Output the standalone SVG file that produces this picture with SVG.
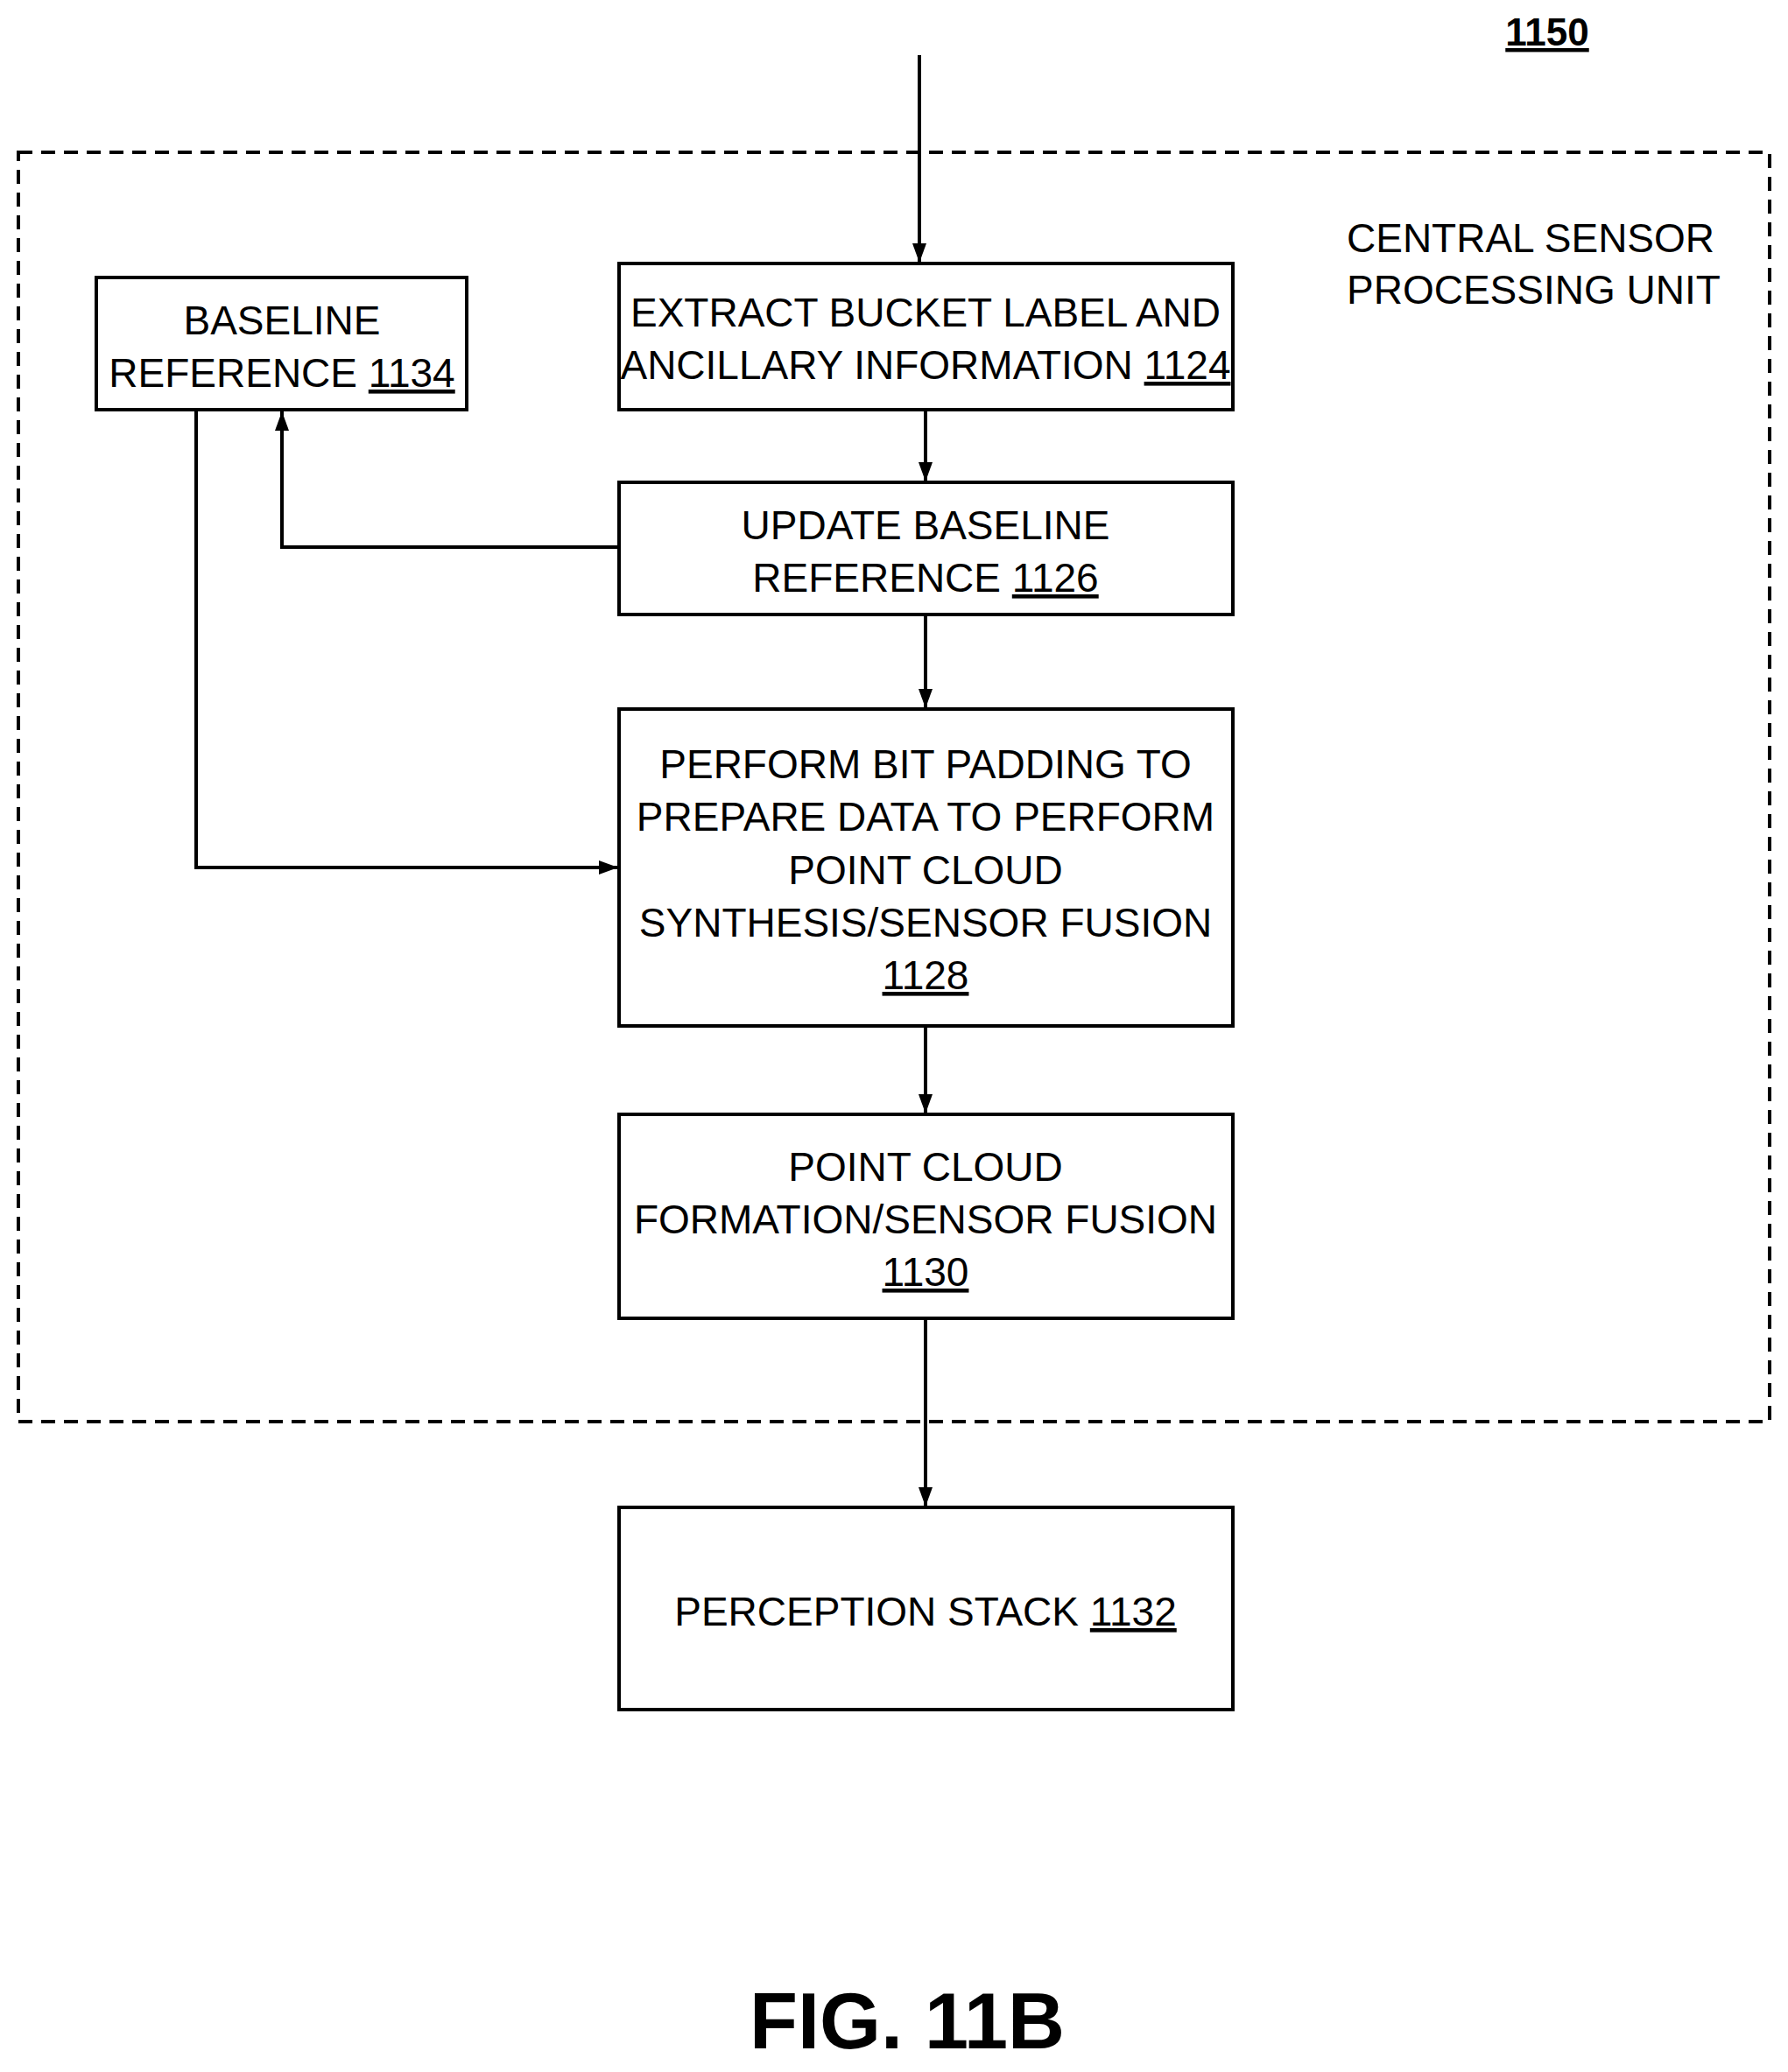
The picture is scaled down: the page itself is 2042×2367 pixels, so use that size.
<svg xmlns="http://www.w3.org/2000/svg" width="2042" height="2367" viewBox="0 0 2042 2367">
<style>
.b{fill:#fff;stroke:#000;stroke-width:4}
.t{font-family:"Liberation Sans Narrow","Liberation Sans",sans-serif;font-size:46px;text-anchor:middle;fill:#000}
.c{fill:none;stroke:#000;stroke-width:4}
</style>
<defs><marker id="a" markerWidth="8" markerHeight="8" refX="7" refY="4" orient="auto" markerUnits="userSpaceOnUse" viewBox="0 0 8 8"><path d="M0,0L8,4L0,8z"/></marker>
<marker id="m" markerWidth="24" markerHeight="24" refX="22" refY="12" orient="auto" markerUnits="userSpaceOnUse"><path d="M0,4L22,12L0,20z"/></marker></defs>
<rect x="21" y="174" width="2000" height="1450" fill="none" stroke="#000" stroke-width="4" stroke-dasharray="16,10"/>
<text x="1767" y="52" class="t" style="font-weight:bold;font-size:44px;text-decoration:underline">1150</text>
<text x="1538" y="288" class="t" style="text-anchor:start">CENTRAL SENSOR</text>
<text x="1538" y="347" class="t" style="text-anchor:start">PROCESSING UNIT</text>
<g id="connectors">
<path class="c" d="M1050,63V300" marker-end="url(#m)"/>
<path class="c" d="M1057,468V550" marker-end="url(#m)"/>
<path class="c" d="M707,625H322V470" marker-end="url(#m)"/>
<path class="c" d="M1057,702V809" marker-end="url(#m)"/>
<path class="c" d="M224,468V991H706" marker-end="url(#m)"/>
<path class="c" d="M1057,1172V1272" marker-end="url(#m)"/>
<path class="c" d="M1057,1506V1721" marker-end="url(#m)"/>
</g>
<g id="n1134"><rect class="b" x="110" y="317" width="423" height="151"/><text class="t" x="322" y="382">BASELINE</text><text class="t" x="322" y="442">REFERENCE <tspan text-decoration="underline">1134</tspan></text></g>
<g id="n1124"><rect class="b" x="707" y="301" width="701" height="167"/><text class="t" x="1057" y="373">EXTRACT BUCKET LABEL AND</text><text class="t" x="1057" y="433">ANCILLARY INFORMATION <tspan text-decoration="underline">1124</tspan></text></g>
<g id="n1126"><rect class="b" x="707" y="551" width="701" height="151"/><text class="t" x="1057" y="616">UPDATE BASELINE</text><text class="t" x="1057" y="676">REFERENCE <tspan text-decoration="underline">1126</tspan></text></g>
<g id="n1128"><rect class="b" x="707" y="810" width="701" height="362"/><text class="t" x="1057" y="889">PERFORM BIT PADDING TO</text><text class="t" x="1057" y="949">PREPARE DATA TO PERFORM</text><text class="t" x="1057" y="1010">POINT CLOUD</text><text class="t" x="1057" y="1070">SYNTHESIS/SENSOR FUSION</text><text class="t" x="1057" y="1130" text-decoration="underline">1128</text></g>
<g id="n1130"><rect class="b" x="707" y="1273" width="701" height="233"/><text class="t" x="1057" y="1349">POINT CLOUD</text><text class="t" x="1057" y="1409">FORMATION/SENSOR FUSION</text><text class="t" x="1057" y="1469" text-decoration="underline">1130</text></g>
<g id="n1132"><rect class="b" x="707" y="1722" width="701" height="231"/><text class="t" x="1057" y="1857">PERCEPTION STACK <tspan text-decoration="underline">1132</tspan></text></g>
<text x="1036" y="2340" class="t" style="font-weight:bold;font-size:90px">FIG. 11B</text>
</svg>
